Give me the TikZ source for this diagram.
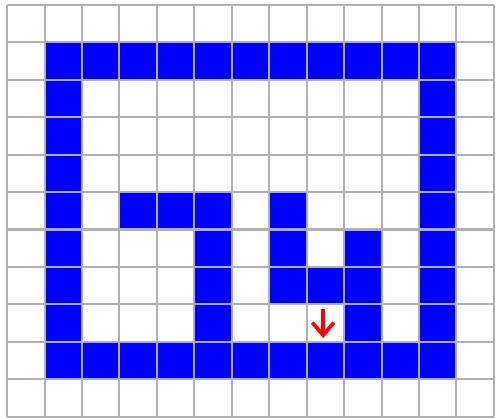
\documentclass[tikz,border=0pt]{standalone}
\usepackage{tikz}
\usetikzlibrary{arrows.meta}
\definecolor{gridgray}{RGB}{176,176,176}

\begin{document}
\begin{tikzpicture}[x=1cm,y=1cm,
		wall/.style={fill=blue},
		gridline/.style={draw=gridgray,line width=1.6pt},
		move/.style={draw=red,line width=2.8pt,-{Straight Barb[length=3.4mm,width=5.8mm]}}]
	\useasboundingbox (-0.19,-0.03) rectangle (13.19,11.13);
	% outer walls
	\foreach \c in {1,...,11} {
		\fill[wall] (\c,9) rectangle ++(1,1);
		\fill[wall] (\c,1) rectangle ++(1,1);
	}
	\foreach \r in {2,...,8} {
		\fill[wall] (1,\r) rectangle ++(1,1);
		\fill[wall] (11,\r) rectangle ++(1,1);
	}
	% inner walls
	\foreach \c/\r in {3/5,4/5,5/5,7/5,5/4,7/4,9/4,5/3,7/3,8/3,9/3,5/2,9/2}
		\fill[wall] (\c,\r) rectangle ++(1,1);
	% grid on top
	\draw[gridline] (0,0) grid (13,11);
	% next step
	\draw[move] (8.44,2.88) -- (8.44,2.1);
\end{tikzpicture}
\end{document}
